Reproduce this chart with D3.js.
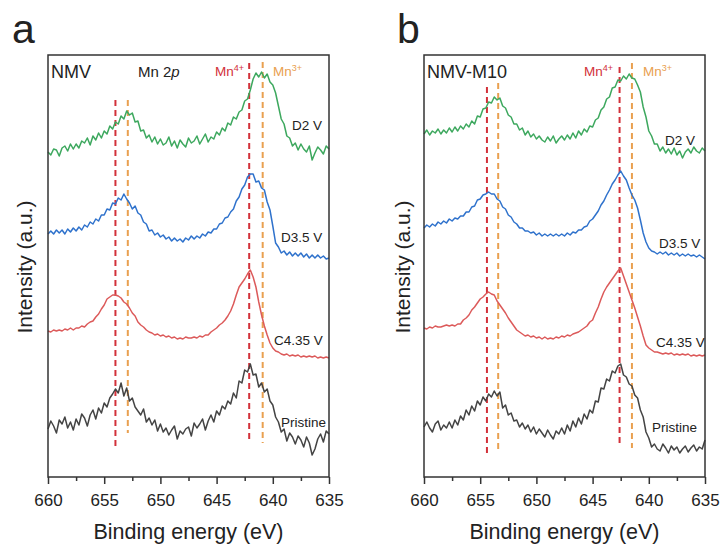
<!DOCTYPE html>
<html>
<head>
<meta charset="utf-8">
<script src="https://cdn.jsdelivr.net/npm/d3@7"></script>
<style>
  body { margin: 0; background: #fff; }
  text { font-family: "Liberation Sans", Arial, sans-serif; fill: #222; }
</style>
</head>
<body>
<div class="visContainer"></div>
<script>
// Data: Mn 2p spectra, binding energy grid 660 -> 635 eV, 0.25 eV step.
const energy = d3.range(660, 634.9, -0.25);
const majorTicks = [660, 655, 650, 645, 640, 635];
const minorTicks = [657.5, 652.5, 647.5, 642.5, 637.5];
const seriesNames = ['D2 V', 'D3.5 V', 'C4.35 V', 'Pristine'];

// NMV (stacked intensities, a.u.).
const nmvD2 = [
  325,322,328,327,321,329,331,326,333,328,
  333,329,336,334,339,332,341,337,344,339,
  346,343,351,348,355,353,361,358,366,362,
  364,355,356,346,347,339,342,335,340,333,
  338,332,334,340,331,336,329,337,333,330,
  339,334,336,341,333,338,343,335,340,338,
  345,342,349,346,354,352,360,358,365,367,
  376,378,387,398,404,400,405,399,403,395,
  392,384,371,358,353,341,339,331,334,327,
  333,328,325,331,317,324,330,327,323,331,
  328];
const nmvD35 = [
  243,246,243,247,244,247,243,248,245,249,
  246,250,247,252,250,255,253,258,256,262,
  262,268,267,274,273,279,277,283,278,274,
  268,271,264,262,255,253,246,247,242,244,
  240,242,238,240,236,239,236,238,235,239,
  237,241,238,241,239,243,241,245,244,248,
  248,253,254,259,260,265,268,276,280,288,
  292,300,303,303,295,296,289,287,275,267,
  251,234,230,224,226,222,225,221,224,221,
  224,220,223,219,222,219,222,219,221,218,
  219];
const nmvC435 = [
  146,145,147,146,147,146,148,147,149,147,
  149,149,151,150,153,155,156,160,163,168,
  172,178,180,182,182,181,179,175,173,169,
  164,161,155,152,150,147,145,144,142,143,
  141,142,140,141,139,140,138,139,138,140,
  139,139,140,139,141,140,142,142,145,147,
  149,152,154,157,161,166,173,182,190,194,
  198,203,207,200,190,175,162,151,142,134,
  129,126,125,123,122,123,121,122,121,122,
  120,121,120,121,120,121,119,120,119,120,
  119];
const nmvPristine = [
  48,56,51,44,57,53,60,49,55,47,
  58,52,63,59,51,62,67,58,69,64,
  74,70,79,83,88,84,94,81,89,76,
  79,70,66,62,68,55,59,52,57,46,
  53,45,49,42,47,51,38,46,43,48,
  50,41,54,49,53,58,47,56,62,55,
  66,62,71,68,76,73,84,79,96,94,
  107,105,113,102,103,90,94,85,88,76,
  72,60,55,45,48,36,44,40,33,41,
  37,30,40,34,22,28,38,43,35,46,
  43];

// NMV-M10 (stacked intensities, a.u.).
const m10D2 = [
  343,347,342,346,344,348,343,347,344,349,
  345,350,346,351,348,353,350,356,353,361,
  360,368,369,375,374,380,377,379,371,369,
  362,360,353,353,347,349,342,346,340,343,
  338,341,337,335,340,336,341,334,338,341,
  337,342,338,344,339,346,342,348,345,351,
  350,357,359,367,370,378,380,389,390,397,
  396,401,398,403,399,398,392,385,370,360,
  346,341,333,333,326,330,324,328,323,329,
  322,326,319,325,328,324,330,326,324,329,
  326];
const m10D35 = [
  249,252,250,253,251,255,253,256,254,258,
  256,259,258,261,261,265,265,270,271,277,
  278,282,283,285,283,283,278,276,270,268,
  262,260,255,253,249,249,246,246,244,245,
  242,244,241,243,241,243,241,243,241,243,
  241,244,242,245,244,247,247,250,251,256,
  258,262,266,272,276,282,287,293,297,302,
  306,301,297,289,282,277,269,257,244,235,
  229,226,225,223,225,223,225,222,224,222,
  224,221,223,221,223,221,222,220,222,220,
  218];
const m10C435 = [
  149,148,150,149,151,150,150,151,152,151,
  152,151,153,153,157,159,162,167,170,174,
  178,180,183,185,183,182,176,172,168,164,
  159,155,151,147,145,143,141,142,140,141,
  139,140,138,140,138,139,138,140,139,141,
  140,142,141,143,144,145,147,149,151,155,
  157,164,170,178,185,190,194,198,202,206,
  209,201,193,185,177,169,160,151,141,132,
  129,127,125,125,124,123,124,123,124,122,
  123,122,123,122,123,121,122,121,122,121,
  122];
const m10Pristine = [
  50,55,49,45,53,56,47,52,49,55,
  49,57,52,61,57,67,62,71,66,76,
  72,80,76,83,80,86,81,85,69,72,
  62,64,56,57,50,54,48,52,45,50,
  43,48,44,40,47,42,38,46,43,49,
  43,52,46,56,50,59,53,63,58,67,
  64,76,75,89,88,98,96,106,104,111,
  113,102,100,93,91,82,79,67,60,45,
  39,30,33,28,26,33,29,24,31,27,
  30,24,28,31,25,29,32,26,30,28,
  37];

// Peak reference energies (eV).
const nmvMn4 = [654.0, 642.1];
const nmvMn3 = [652.9, 640.9];
const m10Mn4 = [654.4, 642.6];
const m10Mn3 = [653.4, 641.5];

// SVG constants.
const width = 722;
const height = 545;
const plotTop = 55;
const plotBottom = 477;
const colors = ['#3da85e', '#2f72cc', '#dc5a5a', '#444444'];
const mn4Color = '#d2313a';
const mn3Color = '#e9a050';

const panels = [
  {
    letter: 'a', letterX: 12, title: 'NMV', x0: 48, x1: 329, yLabelX: 24,
    series: [nmvD2, nmvD35, nmvC435, nmvPristine],
    mn4: nmvMn4, mn3: nmvMn3,
    // dashed line extents in intensity units [top, bottom], per peak
    mn4Span: [[377, 29], [414, 35]],
    mn3Span: [[377, 44], [415, 34]],
    mnLabelX: [215, 273],
    labels: [[292, 130], [281, 242], [274, 345], [281, 427]],
    subtitle: true
  },
  {
    letter: 'b', letterX: 397, title: 'NMV-M10', x0: 424, x1: 705, yLabelX: 402,
    series: [m10D2, m10D35, m10C435, m10Pristine],
    mn4: m10Mn4, mn3: m10Mn3,
    mn4Span: [[390, 24], [410, 30]],
    mn3Span: [[394, 27], [414, 29]],
    mnLabelX: [584, 643],
    labels: [[665, 145], [659, 248], [656, 347], [652, 432]],
    subtitle: false
  }
];

const svg = d3.select('.visContainer')
              .append('svg')
              .attr('width', width)
              .attr('height', height);

const y = d3.scaleLinear()
            .domain([0, plotBottom - plotTop])
            .range([plotBottom, plotTop]);

panels.forEach((p) => {
    const x = d3.scaleLinear()
                .domain([660, 635])
                .range([p.x0, p.x1]);

    const g = svg.append('g');

    // Panel letter.
    g.append('text')
     .attr('x', p.letterX)
     .attr('y', 43)
     .style('font-size', '41px')
     .text(p.letter);

    // Dashed peak markers.
    const markers = [];
    p.mn4.forEach((e, i) => markers.push({e: e, span: p.mn4Span[i], color: mn4Color}));
    p.mn3.forEach((e, i) => markers.push({e: e, span: p.mn3Span[i], color: mn3Color}));
    g.selectAll('line.marker')
     .data(markers)
     .enter()
     .append('line')
     .attr('class', 'marker')
     .attr('x1', (d) => x(d.e))
     .attr('x2', (d) => x(d.e))
     .attr('y1', (d) => y(d.span[0]))
     .attr('y2', (d) => y(d.span[1]))
     .attr('stroke', (d) => d.color)
     .attr('stroke-width', 2)
     .attr('stroke-dasharray', '6,4');

    // Spectra.
    const line = d3.line()
                   .x((d, i) => x(energy[i]))
                   .y((d) => y(d));
    g.selectAll('path.spectrum')
     .data(p.series)
     .enter()
     .append('path')
     .attr('class', 'spectrum')
     .attr('d', line)
     .attr('fill', 'none')
     .attr('stroke', (d, i) => colors[i])
     .attr('stroke-width', 1.5)
     .attr('stroke-linejoin', 'round');

    // Series labels.
    g.selectAll('text.series')
     .data(seriesNames)
     .enter()
     .append('text')
     .attr('class', 'series')
     .attr('x', (d, i) => p.labels[i][0])
     .attr('y', (d, i) => p.labels[i][1])
     .style('font-size', '13.5px')
     .text((d) => d);

    // Frame.
    g.append('rect')
     .attr('x', p.x0)
     .attr('y', plotTop)
     .attr('width', p.x1 - p.x0)
     .attr('height', plotBottom - plotTop)
     .attr('fill', 'none')
     .attr('stroke', '#333')
     .attr('stroke-width', 1.5);

    // Titles inside the frame.
    g.append('text')
     .attr('x', p.x0 + 3)
     .attr('y', 78)
     .style('font-size', '18px')
     .text(p.title);

    if (p.subtitle) {
        const t = g.append('text')
                   .attr('x', 138)
                   .attr('y', 77)
                   .style('font-size', '15px');
        t.append('tspan').text('Mn 2');
        t.append('tspan').style('font-style', 'italic').text('p');
    }

    const mnLabels = [['4+', mn4Color], ['3+', mn3Color]];
    mnLabels.forEach((m, i) => {
        const t = g.append('text')
                   .attr('x', p.mnLabelX[i])
                   .attr('y', 76)
                   .style('font-size', '13.5px')
                   .style('fill', m[1]);
        t.append('tspan').text('Mn');
        t.append('tspan')
         .attr('dy', -5)
         .style('font-size', '9px')
         .text(m[0]);
    });

    // Axes.
    const xAxis = d3.axisBottom(x)
                    .tickValues(majorTicks)
                    .tickSize(7)
                    .tickSizeOuter(0)
                    .tickPadding(10);
    const ax = g.append('g')
                .attr('transform', 'translate(0,' + plotBottom + ')')
                .call(xAxis);
    ax.select('.domain').remove();
    ax.selectAll('line').attr('stroke', '#333').attr('stroke-width', 1.5);
    ax.selectAll('text')
      .style('font-size', '17px')
      .style('font-family', '"Liberation Sans", Arial, sans-serif')
      .attr('fill', '#222');

    const minorAxis = d3.axisBottom(x)
                        .tickValues(minorTicks)
                        .tickSize(4)
                        .tickSizeOuter(0)
                        .tickFormat('');
    const mx = g.append('g')
                .attr('transform', 'translate(0,' + plotBottom + ')')
                .call(minorAxis);
    mx.select('.domain').remove();
    mx.selectAll('line').attr('stroke', '#333').attr('stroke-width', 1.5);

    // Axis titles.
    g.append('text')
     .attr('x', (p.x0 + p.x1) / 2)
     .attr('y', 539)
     .attr('text-anchor', 'middle')
     .style('font-size', '21.5px')
     .text('Binding energy (eV)');

    g.append('text')
     .attr('transform', 'translate(' + p.yLabelX + ',267) rotate(-90)')
     .attr('text-anchor', 'middle')
     .attr('dominant-baseline', 'central')
     .style('font-size', '21px')
     .text('Intensity (a.u.)');
});
</script>
</body>
</html>
